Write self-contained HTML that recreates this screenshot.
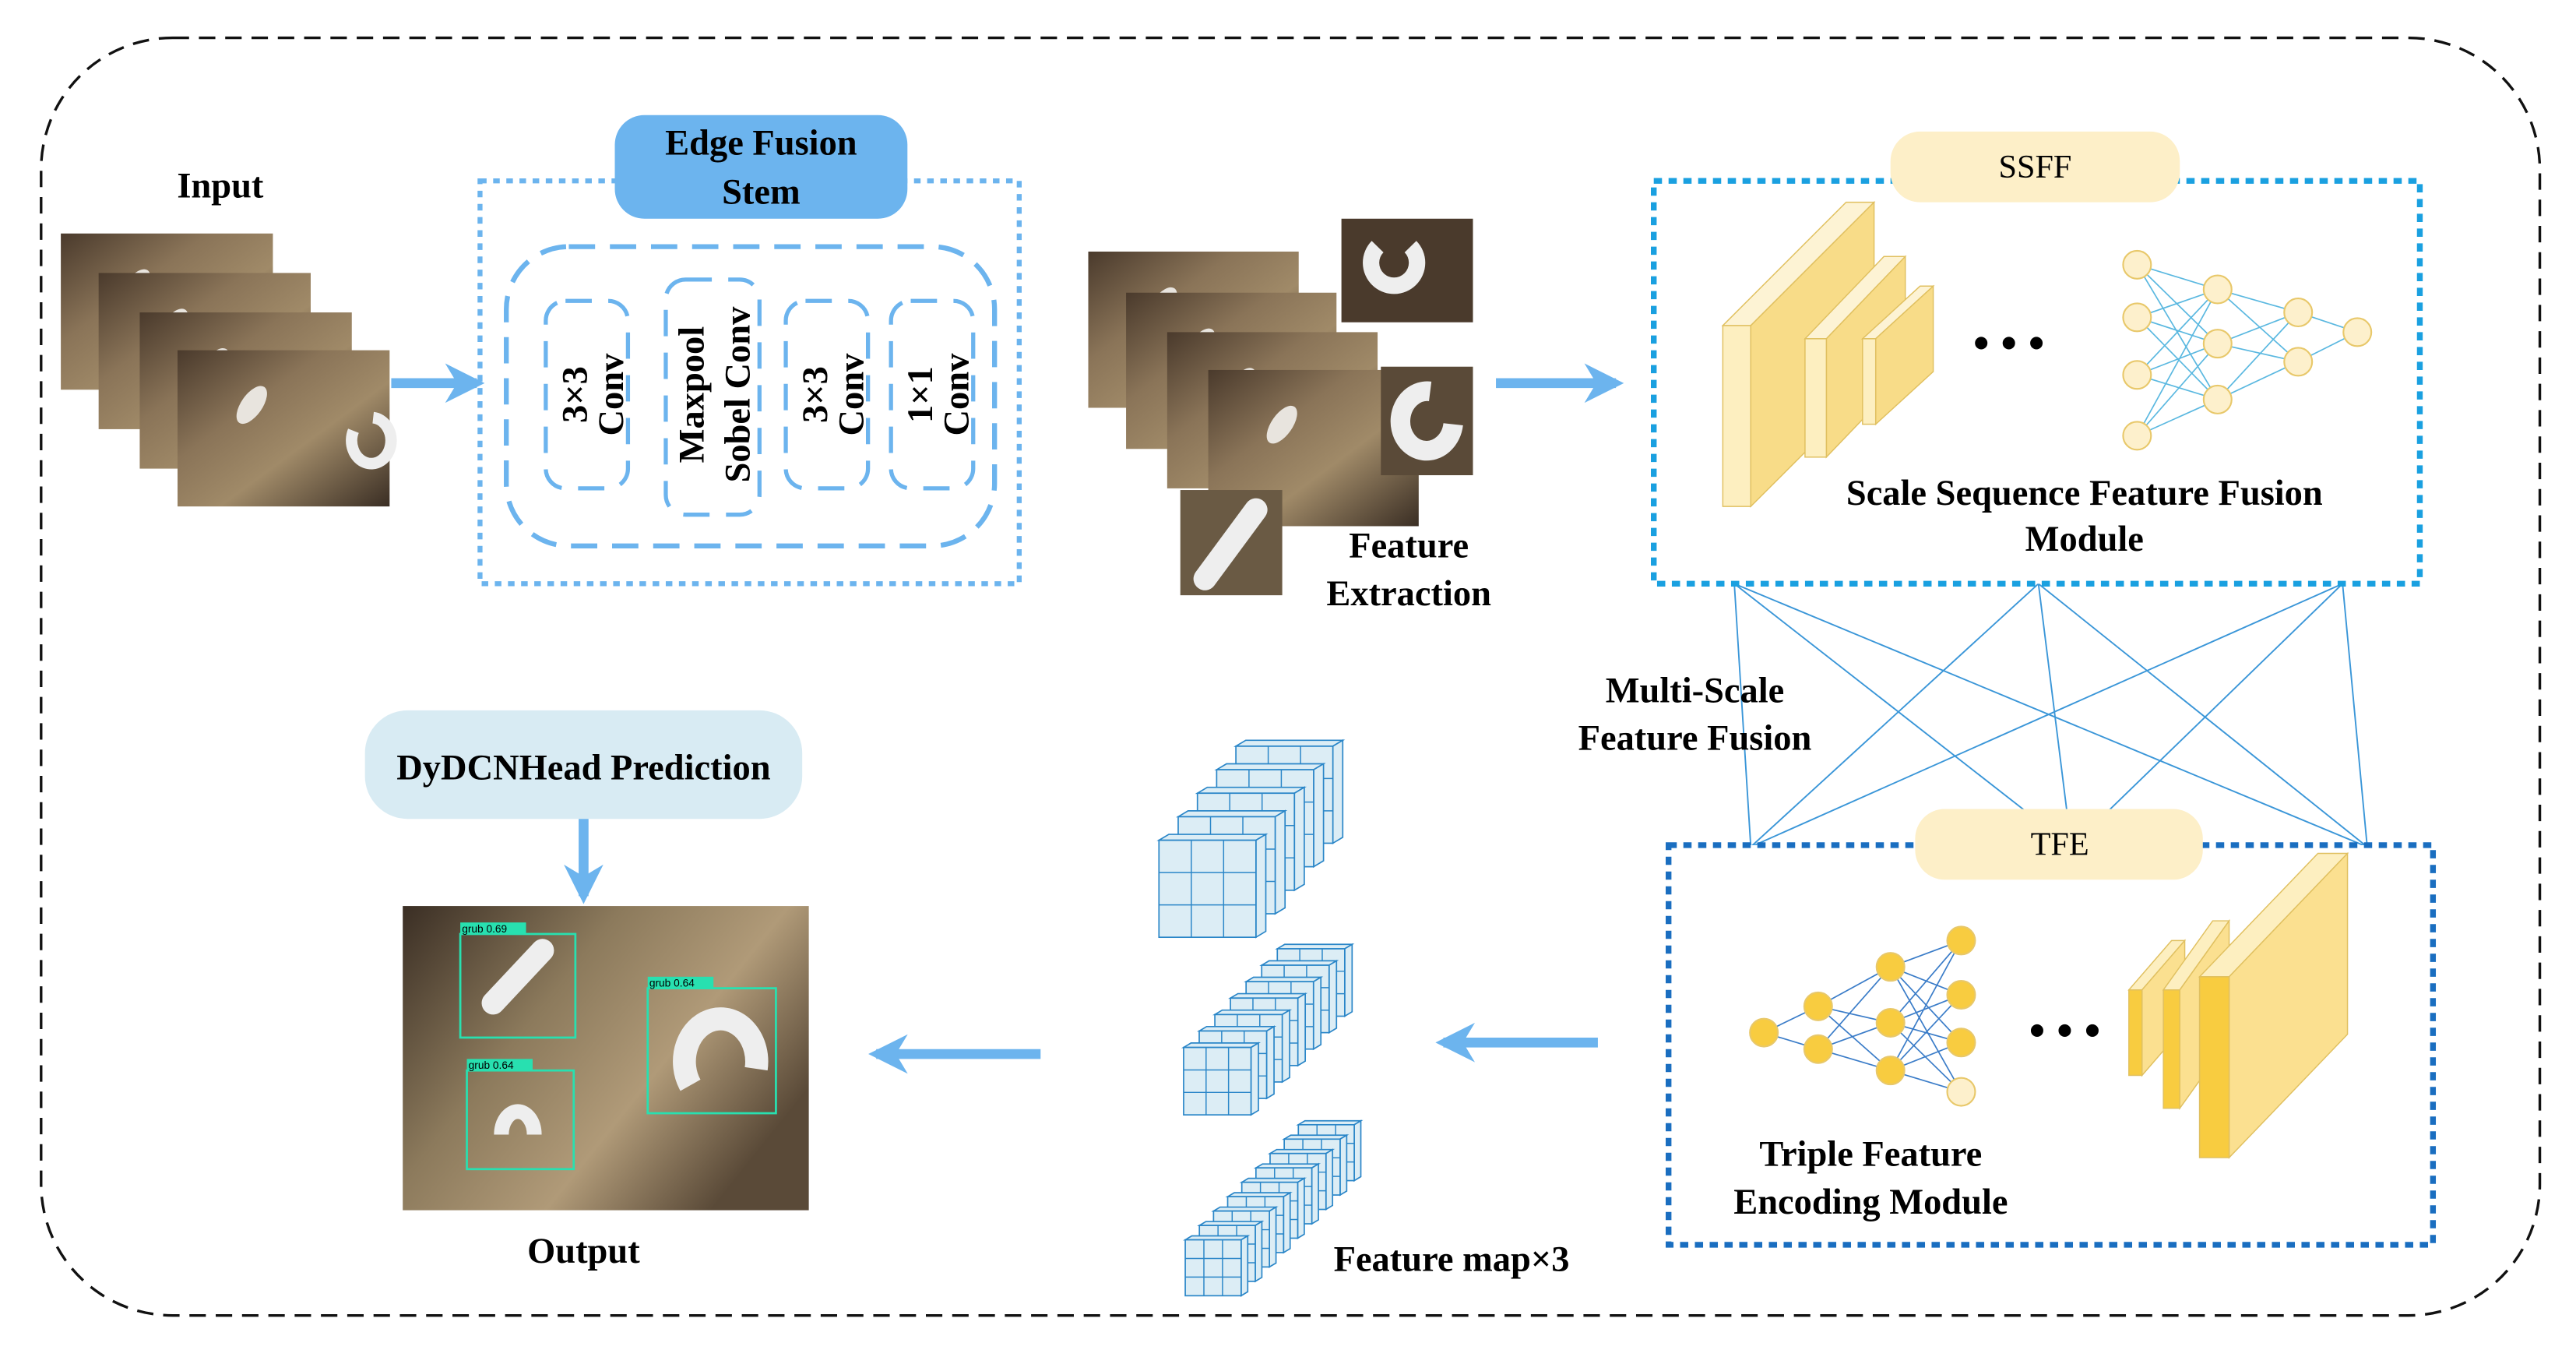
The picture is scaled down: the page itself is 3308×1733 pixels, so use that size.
<!DOCTYPE html>
<html><head><meta charset="utf-8"><style>
html,body{margin:0;padding:0;background:#fff;}
svg{display:block;}
text{font-family:"Liberation Serif",serif;font-weight:bold;fill:#000;}
</style></head><body>
<svg id="s" width="3308" height="1733" viewBox="0 0 1567 821" preserveAspectRatio="none" xmlns="http://www.w3.org/2000/svg">
<defs>
<linearGradient id="soil" x1="0" y1="0" x2="1" y2="1">
<stop offset="0" stop-color="#4a3a2c"/><stop offset="0.35" stop-color="#8a7458"/><stop offset="0.6" stop-color="#a08a68"/><stop offset="1" stop-color="#3a2e24"/>
</linearGradient>
<linearGradient id="soil2" x1="0" y1="0" x2="1" y2="0.6">
<stop offset="0" stop-color="#3a2e24"/><stop offset="0.4" stop-color="#8c7a5c"/><stop offset="0.7" stop-color="#b09a78"/><stop offset="1" stop-color="#5a4a38"/>
</linearGradient>
<marker id="ah" viewBox="0 0 10 10" refX="8" refY="5" markerWidth="4" markerHeight="4" orient="auto"><path d="M0,0 L10,5 L0,10 L3,5 z" fill="#6cb4ee"/></marker>
</defs>

<rect x="25" y="23" width="1520" height="777" rx="80" fill="none" stroke="#111" stroke-width="1.6" stroke-dasharray="10,6"/>

<text x="134" y="120" font-size="22" text-anchor="middle">Input</text>
<g id="inp"></g>
<line x1="238" y1="233" x2="290" y2="233" stroke="#6cb4ee" stroke-width="6" marker-end="url(#ah)"/>

<rect x="292" y="110" width="328" height="245" fill="none" stroke="#6cb4ee" stroke-width="3" stroke-dasharray="4,4"/>
<rect x="374" y="70" width="178" height="63" rx="18" fill="#6cb4ee"/>
<text x="463" y="94" font-size="22" text-anchor="middle">Edge Fusion</text>
<text x="463" y="124" font-size="22" text-anchor="middle">Stem</text>
<rect x="308" y="150" width="297" height="182" rx="38" fill="none" stroke="#6cb4ee" stroke-width="3" stroke-dasharray="16,9"/>
<rect x="332" y="183" width="50" height="114" rx="12" fill="none" stroke="#6cb4ee" stroke-width="2.5" stroke-dasharray="16,10"/>
<rect x="405" y="170" width="57" height="143" rx="12" fill="none" stroke="#6cb4ee" stroke-width="2.5" stroke-dasharray="16,10"/>
<rect x="478" y="183" width="50" height="114" rx="12" fill="none" stroke="#6cb4ee" stroke-width="2.5" stroke-dasharray="16,10"/>
<rect x="542" y="183" width="50" height="114" rx="12" fill="none" stroke="#6cb4ee" stroke-width="2.5" stroke-dasharray="16,10"/>
<text transform="translate(357,240) rotate(-90)" font-size="22" text-anchor="middle">3×3</text>
<text transform="translate(379,240) rotate(-90)" font-size="22" text-anchor="middle">Conv</text>
<text transform="translate(428,240) rotate(-90)" font-size="22" text-anchor="middle">Maxpool</text>
<text transform="translate(456,240) rotate(-90)" font-size="22" text-anchor="middle">Sobel Conv</text>
<text transform="translate(503,240) rotate(-90)" font-size="22" text-anchor="middle">3×3</text>
<text transform="translate(525,240) rotate(-90)" font-size="22" text-anchor="middle">Conv</text>
<text transform="translate(567,240) rotate(-90)" font-size="22" text-anchor="middle">1×1</text>
<text transform="translate(589,240) rotate(-90)" font-size="22" text-anchor="middle">Conv</text>

<g id="fe"></g>
<text x="857" y="339" font-size="22" text-anchor="middle">Feature</text>
<text x="857" y="368" font-size="22" text-anchor="middle">Extraction</text>
<line x1="910" y1="233" x2="983" y2="233" stroke="#6cb4ee" stroke-width="6" marker-end="url(#ah)"/>

<g id="cross" stroke="#3a96d8" stroke-width="0.9"></g>

<rect x="1006" y="110" width="466" height="245" fill="#fff" stroke="#1aa0e0" stroke-width="3.5" stroke-dasharray="5,4"/>
<rect x="1150" y="80" width="176" height="43" rx="18" fill="#fdefc8"/>
<text x="1238" y="108" font-size="20" text-anchor="middle" style="font-weight:normal">SSFF</text>
<g id="ssff"></g>
<text x="1222" y="218" font-size="28" text-anchor="middle">• • •</text>
<text x="1268" y="307" font-size="22" text-anchor="middle">Scale Sequence Feature Fusion</text>
<text x="1268" y="335" font-size="22" text-anchor="middle">Module</text>

<text x="1031" y="427" font-size="22" text-anchor="middle">Multi-Scale</text>
<text x="1031" y="456" font-size="22" text-anchor="middle">Feature Fusion</text>

<rect x="1015" y="514" width="465" height="243" fill="#fff" stroke="#1a6ec0" stroke-width="3.5" stroke-dasharray="5,4"/>
<rect x="1165" y="492" width="175" height="43" rx="18" fill="#fdefc8"/>
<text x="1253" y="520" font-size="20" text-anchor="middle" style="font-weight:normal">TFE</text>
<g id="tfe"></g>
<text x="1256" y="636" font-size="28" text-anchor="middle">• • •</text>
<text x="1138" y="709" font-size="22" text-anchor="middle">Triple Feature</text>
<text x="1138" y="738" font-size="22" text-anchor="middle">Encoding Module</text>

<line x1="972" y1="634" x2="878" y2="634" stroke="#6cb4ee" stroke-width="6" marker-end="url(#ah)"/>
<g id="cubes"></g>
<text x="883" y="773" font-size="22" text-anchor="middle">Feature map×3</text>
<line x1="633" y1="641" x2="533" y2="641" stroke="#6cb4ee" stroke-width="6" marker-end="url(#ah)"/>

<rect x="222" y="432" width="266" height="66" rx="26" fill="#d8ebf3"/>
<text x="355" y="474" font-size="22" text-anchor="middle">DyDCNHead Prediction</text>
<line x1="355" y1="498" x2="355" y2="545" stroke="#6cb4ee" stroke-width="6" marker-end="url(#ah)"/>
<rect x="245" y="551" width="247" height="185" fill="url(#soil2)"/>
<g id="outp"></g>
<text x="355" y="768" font-size="22" text-anchor="middle">Output</text>
</svg>
<script>
(function(){
var NS="http://www.w3.org/2000/svg";
function el(p,t,a){var e=document.createElementNS(NS,t);for(var k in a)e.setAttribute(k,a[k]);document.getElementById(p).appendChild(e);return e;}
function photo(p,x,y,w,h){el(p,"rect",{x:x,y:y,width:w,height:h,fill:"url(#soil)"});
 el(p,"ellipse",{cx:x+w*0.35,cy:y+h*0.35,rx:w*0.05,ry:h*0.14,fill:"#e8e4de",transform:"rotate(35 "+(x+w*0.35)+" "+(y+h*0.35)+")"});}
[[37,142],[60,166],[85,190],[108,213]].forEach(function(c){photo("inp",c[0],c[1],129,95);});
el("inp","path",{d:"M215,262 a12,14 0 1 0 12,-8",stroke:"#eee",fill:"none","stroke-width":7});
[[662,153],[685,178],[710,202],[735,225]].forEach(function(c){photo("fe",c[0],c[1],128,95);});
el("fe","rect",{x:816,y:133,width:80,height:63,fill:"#4a3a2c"});
el("fe","path",{d:"M838,150 a14,14 0 1 0 20,0",stroke:"#eee",fill:"none","stroke-width":10});
el("fe","rect",{x:840,y:223,width:56,height:66,fill:"#5a4a38"});
el("fe","path",{d:"M870,238 a16,18 0 1 0 14,20",stroke:"#eee",fill:"none","stroke-width":12});
el("fe","rect",{x:718,y:298,width:62,height:64,fill:"#6a5a44"});
el("fe","line",{x1:733,y1:352,x2:764,y2:310,stroke:"#eee","stroke-width":14,"stroke-linecap":"round"});
var tops=[1055,1240,1425],bots=[1065,1260,1440];
tops.forEach(function(a){bots.forEach(function(b){el("cross","line",{x1:a,y1:355,x2:b,y2:515});});});
function slab(p,x,y,w,h,dx,dy,front,side,topc){
 el(p,"polygon",{points:[x,y,x+dx,y-dy,x+dx+w,y-dy,x+w,y].join(","),fill:topc,stroke:"#e0c060","stroke-width":0.7});
 el(p,"polygon",{points:[x+w,y,x+w+dx,y-dy,x+w+dx,y-dy+h,x+w,y+h].join(","),fill:side,stroke:"#e0c060","stroke-width":0.7});
 el(p,"rect",{x:x,y:y,width:w,height:h,fill:front,stroke:"#e0c060","stroke-width":0.7});}
slab("ssff",1048,198,17,110,75,75,"#fdefc0","#f8dc88","#fdf3d4");
slab("ssff",1098,206,13,72,48,50,"#fdefc0","#f8dc88","#fdf3d4");
slab("ssff",1133,206,8,52,35,32,"#fdefc0","#f8dc88","#fdf3d4");
slab("tfe",1295,602,8,52,26,30,"#f8cc40","#fbe090","#fdefc0");
slab("tfe",1316,602,10,72,30,42,"#f8cc40","#fbe090","#fdefc0");
slab("tfe",1338,594,18,110,72,75,"#f8cc40","#fbe090","#fdefc0");
function net(p,layers,stroke,fillf){for(var i=0;i<layers.length-1;i++)layers[i].forEach(function(a){layers[i+1].forEach(function(b){el(p,"line",{x1:a[0],y1:a[1],x2:b[0],y2:b[1],stroke:stroke,"stroke-width":0.8});});});
 layers.forEach(function(L,li){L.forEach(function(n,ni){el(p,"circle",{cx:n[0],cy:n[1],r:8.5,fill:fillf(li,ni),stroke:"#e8c86a","stroke-width":1});});});}
net("ssff",[[[1300,161],[1300,193],[1300,228],[1300,265]],[[1349,176],[1349,209],[1349,243]],[[1398,190],[1398,220]],[[1434,202]]],"#5ab8e0",function(){return "#fdf0cc";});
net("tfe",[[[1073,628]],[[1106,612],[1106,638]],[[1150,588],[1150,622],[1150,651]],[[1193,572],[1193,605],[1193,634],[1193,664]]],"#3a7cc8",function(l,n){return (l==3&&n==3)?"#fdf0cc":"#f8cc40";});
function cube(x,y,s,d){var g="cubes";
 el(g,"polygon",{points:[x,y,x+d,y-d*0.6,x+s+d,y-d*0.6,x+s,y].join(","),fill:"#dcedf5",stroke:"#2a86c8","stroke-width":0.8});
 el(g,"polygon",{points:[x+s,y,x+s+d,y-d*0.6,x+s+d,y+s-d*0.6,x+s,y+s].join(","),fill:"#dcedf5",stroke:"#2a86c8","stroke-width":0.8});
 el(g,"rect",{x:x,y:y,width:s,height:s,fill:"#dcedf5",stroke:"#2a86c8","stroke-width":0.8});
 for(var i=1;i<3;i++){el(g,"line",{x1:x+s*i/3,y1:y,x2:x+s*i/3,y2:y+s,stroke:"#2a86c8","stroke-width":0.7});
  el(g,"line",{x1:x,y1:y+s*i/3,x2:x+s,y2:y+s*i/3,stroke:"#2a86c8","stroke-width":0.7});}}
function stack(x,y,s,n,dx,dy,d){for(var i=n-1;i>=0;i--)cube(x+i*dx,y-i*dy,s,d);}
stack(705,511,59,5,11.7,14.3,6);
stack(720,637,41,7,9.5,10,4.5);
stack(721,754,34,9,8.6,8.75,4);
var o="outp";
el(o,"path",{d:"M300,610 L330,578",stroke:"#eee","stroke-width":14,"stroke-linecap":"round"});
el(o,"path",{d:"M420,660 a22,26 0 1 1 40,-10",stroke:"#eee",fill:"none","stroke-width":14});
el(o,"path",{d:"M305,690 a10,14 0 1 1 20,0",stroke:"#eee",fill:"none","stroke-width":9});
[[280,568,70,63,"grub 0.69"],[394,601,78,76,"grub 0.64"],[284,651,65,60,"grub 0.64"]].forEach(function(b){
 el(o,"rect",{x:b[0],y:b[1],width:b[2],height:b[3],fill:"none",stroke:"#28e0b0","stroke-width":1.3});
 el(o,"rect",{x:b[0],y:b[1]-7,width:40,height:7,fill:"#28e0b0"});
 var t=el(o,"text",{x:b[0]+1,y:b[1]-1,"font-size":6.5,style:"font-family:'Liberation Sans',sans-serif;font-weight:normal"});t.textContent=b[4];});
})();
</script>
</body></html>
